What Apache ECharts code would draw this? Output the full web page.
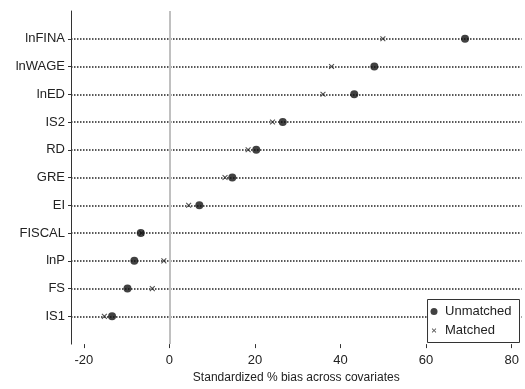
<!DOCTYPE html>
<html>
<head>
<meta charset="utf-8">
<script src="https://cdn.jsdelivr.net/npm/echarts@6/dist/echarts.min.js"></script>
<style>
    html, body { margin: 0; padding: 0; background: #fff; }
    #chart { width: 525px; height: 389px; }
</style>
</head>
<body>
<div id="chart"></div>
<script>
// covariates, bottom to top
var covariates = ["IS1", "FS", "lnP", "FISCAL", "EI", "GRE", "RD", "IS2", "lnED", "lnWAGE", "lnFINA"];
var unmatched = [-13.4, -9.8, -8.2, -6.7, 7.0, 14.7, 20.3, 26.5, 43.2, 47.9, 69.1];
var matched = [-15.2, -4.0, -1.3, -6.5, 4.5, 13.0, 18.4, 24.1, 35.9, 37.9, 49.9];
var xTicks = [-20, 0, 20, 40, 60, 80];

// x mark with invisible specks at the corners so it sits smaller inside its box
var crossPath = "path://M-3,-3L-3,-2.95L-2.95,-3Z M13,13L13,12.95L12.95,13Z " +
    "M0,1.3L1.3,0L5,3.7L8.7,0L10,1.3L6.3,5L10,8.7L8.7,10L5,6.3L1.3,10L0,8.7L3.7,5Z";

// blank slot at each end so rows sit away from the frame
var yCats = [""].concat(covariates, [""]);
var inner = function (index) {
    return index > 0 && index < yCats.length - 1;
};

function pairs(vals) {
    return vals.map(function (v, i) {
        return [v, covariates[i]];
    });
}

var myChart = echarts.init(document.getElementById("chart"));
var option = {
    animation: false,
    textStyle: { fontFamily: "Liberation Sans, Arial, sans-serif" },
    grid: { left: 71, right: 3.5, top: 11, bottom: 41.5 },
    legend: {
        orient: "vertical",
        right: 5.5,
        bottom: 46.5,
        padding: [4.5, 8, 4.5, 3],
        itemGap: 4,
        itemWidth: 12,
        itemHeight: 7,
        borderColor: "#333",
        borderWidth: 1,
        backgroundColor: "#fff",
        textStyle: { fontSize: 13, color: "#222", lineHeight: 15 },
        data: [
            { name: "Unmatched", icon: "circle" },
            { name: "Matched", icon: crossPath }
        ]
    },
    xAxis: {
        type: "value",
        min: -23,
        max: 82.3,
        name: "Standardized % bias across covariates",
        nameLocation: "middle",
        nameGap: 20,
        nameTextStyle: { fontSize: 12, color: "#222" },
        axisLine: { onZero: false, lineStyle: { color: "#333", width: 1 } },
        axisTick: { show: true, length: 4, customValues: xTicks, lineStyle: { color: "#333" } },
        axisLabel: { customValues: xTicks, fontSize: 13, color: "#222", margin: 10 },
        splitLine: { show: false }
    },
    yAxis: {
        type: "category",
        data: yCats,
        boundaryGap: false,
        axisLine: { show: true, onZero: false, lineStyle: { color: "#333", width: 1 } },
        axisTick: { show: true, length: 3, interval: inner, lineStyle: { color: "#333" } },
        axisLabel: { interval: 0, fontSize: 13, color: "#222", margin: 6 },
        splitLine: {
            show: true,
            interval: inner,
            lineStyle: { color: "#222", width: 1.5, type: [1.5, 1.5] }
        }
    },
    series: [
        {
            name: "Matched",
            type: "scatter",
            symbol: crossPath,
            symbolSize: 9,
            itemStyle: { color: "#222" },
            data: pairs(matched),
            markLine: {
                silent: true,
                symbol: "none",
                label: { show: false },
                lineStyle: { color: "#c0c0c0", width: 2, type: "solid" },
                data: [{ xAxis: 0 }]
            },
            z: 3
        },
        {
            name: "Unmatched",
            type: "scatter",
            symbol: "circle",
            symbolSize: 8,
            itemStyle: { color: "#111" },
            data: pairs(unmatched),
            z: 4
        }
    ]
};
myChart.setOption(option);
</script>
</body>
</html>
